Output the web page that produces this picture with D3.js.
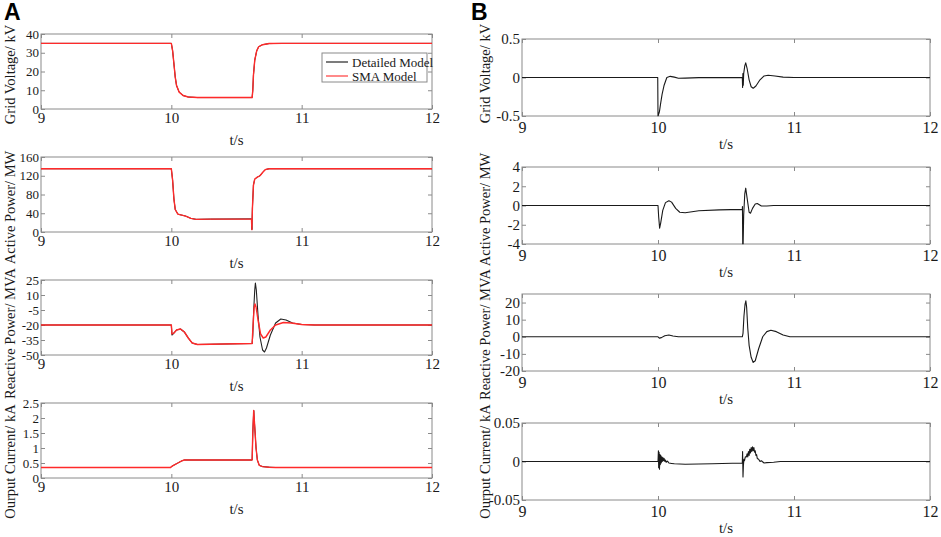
<!DOCTYPE html>
<html><head><meta charset="utf-8">
<script src="https://cdn.jsdelivr.net/npm/d3@7"></script>
<style>
html,body{margin:0;padding:0;background:#fff;}
svg{display:block;}
svg text, svg g text, .tick text{font-family:"Liberation Serif","Times New Roman",serif !important;fill:#1a1a1a;}
svg text.letter{font-family:"Liberation Sans",Arial,sans-serif !important;font-weight:bold;fill:#000;}
</style></head>
<body>
<svg id="chart" width="941" height="537"></svg>
<script>
// ---------- DATA ----------
const timeDomain = [9, 12];
const xTickValues = [9, 10, 11, 12];
const xAxisLabel = "t/s";
const yLabels = ["Grid Voltage/ kV", "Active Power/ MW", "Reactive Power/ MVA", "Ourput Current/ kA"];
const legendLabels = ["Detailed Model", "SMA Model"];

// Panel A y-axes
const aDomains = [[0, 40], [0, 160], [-50, 25], [0, 2.5]];
const aTicks = [[0, 10, 20, 30, 40], [0, 40, 80, 120, 160], [-50, -35, -20, -5, 10, 25], [0, 0.5, 1, 1.5, 2, 2.5]];
// Panel B y-axes
const bDomains = [[-0.5, 0.5], [-4, 4], [-20, 25], [-0.05, 0.05]];
const bTicks = [[-0.5, 0, 0.5], [-4, -2, 0, 2, 4], [-20, -10, 0, 10, 20], [-0.05, 0, 0.05]];

// Panel A: grid voltage (kV)
const voltageDetailed = [[9,35],[10.0,35],[10.01,31],[10.02,24],[10.03,17],[10.04,12.5],[10.06,9],[10.09,7.2],[10.13,6.4],[10.2,6.1],[10.62,6.1],[10.625,10],[10.63,18],[10.64,26],[10.655,31],[10.67,33.2],[10.7,34.3],[10.75,34.9],[10.85,35],[12,35]];
const voltageSMA = [[9,35],[10.0,35],[10.01,31],[10.02,24],[10.03,17],[10.04,12.5],[10.06,9],[10.09,7.2],[10.13,6.4],[10.2,6.1],[10.62,6.1],[10.625,10],[10.63,18],[10.64,26],[10.655,31],[10.67,33.2],[10.7,34.3],[10.75,34.9],[10.85,35],[12,35]];
// Panel A: active power (MW)
const activeDetailed = [[9,135],[10.0,135],[10.01,110],[10.02,70],[10.03,48],[10.05,38],[10.08,36],[10.11,34],[10.15,29],[10.19,27],[10.3,27.5],[10.615,28],[10.618,5],[10.622,50],[10.63,100],[10.64,113],[10.66,117],[10.68,120],[10.7,127],[10.72,133],[10.75,135],[12,135]];
const activeSMA = [[9,135],[10.0,135],[10.01,110],[10.02,70],[10.03,48],[10.05,38],[10.08,36],[10.11,34],[10.15,29],[10.19,27],[10.3,27.5],[10.615,28],[10.618,5],[10.622,50],[10.63,100],[10.64,113],[10.66,117],[10.68,120],[10.7,127],[10.72,133],[10.75,135],[12,135]];
// Panel A: reactive power (MVA)
const reactiveDetailed = [[9,-20],[10.0,-20],[10.005,-30],[10.02,-28],[10.04,-25],[10.07,-24],[10.1,-27],[10.13,-33],[10.16,-38],[10.2,-39.5],[10.4,-39],[10.62,-38.5],[10.625,-30],[10.632,-5],[10.64,15],[10.645,22],[10.652,15],[10.665,-10],[10.68,-32],[10.7,-45],[10.715,-47],[10.73,-43],[10.76,-30],[10.8,-18],[10.84,-14],[10.88,-15],[10.93,-18],[11.0,-19.5],[11.1,-20],[12,-20]];
const reactiveSMA = [[9,-20],[10.0,-20],[10.005,-29],[10.02,-28],[10.04,-25],[10.07,-24],[10.1,-27],[10.13,-33],[10.16,-38],[10.2,-39.5],[10.4,-39],[10.62,-38.5],[10.625,-25],[10.635,-3],[10.642,1],[10.65,-2],[10.665,-15],[10.685,-29],[10.705,-33],[10.725,-32],[10.76,-25],[10.8,-20],[10.86,-17.5],[10.92,-18],[11.0,-19.5],[11.1,-20],[12,-20]];
// Panel A: output current (kA)
const currentDetailed = [[9,0.35],[9.995,0.35],[10.0,0.38],[10.02,0.43],[10.05,0.5],[10.08,0.57],[10.1,0.6],[10.62,0.6],[10.625,1.5],[10.632,2.25],[10.64,1.7],[10.65,1.0],[10.66,0.6],[10.675,0.42],[10.7,0.38],[10.75,0.36],[10.8,0.35],[12,0.35]];
const currentSMA = [[9,0.35],[9.995,0.35],[10.0,0.38],[10.02,0.43],[10.05,0.5],[10.08,0.57],[10.1,0.6],[10.62,0.6],[10.625,1.5],[10.632,2.25],[10.64,1.7],[10.65,1.0],[10.66,0.6],[10.675,0.42],[10.7,0.38],[10.75,0.36],[10.8,0.35],[12,0.35]];

// Panel B: errors
const voltageError = [[9,0],[9.998,0],[10.0,-0.5],[10.01,-0.45],[10.02,-0.33],[10.03,-0.22],[10.045,-0.1],[10.065,0],[10.09,0.015],[10.12,0.005],[10.15,-0.01],[10.2,-0.008],[10.3,-0.002],[10.62,0],[10.622,-0.13],[10.624,0.05],[10.627,-0.1],[10.63,0.05],[10.638,0.15],[10.645,0.19],[10.655,0.12],[10.67,-0.03],[10.685,-0.12],[10.7,-0.14],[10.72,-0.11],[10.75,-0.03],[10.78,0.02],[10.81,0.03],[10.86,0.02],[10.92,0.005],[11.0,0],[12,0]];
const activeError = [[9,0],[10.0,0],[10.005,-1.2],[10.012,-2.35],[10.02,-1.8],[10.035,-0.5],[10.055,0.3],[10.08,0.5],[10.1,0.35],[10.13,-0.3],[10.16,-0.7],[10.2,-0.75],[10.3,-0.55],[10.45,-0.45],[10.62,-0.4],[10.621,-0.1],[10.623,-4],[10.626,-4],[10.63,-1],[10.638,1.2],[10.645,1.8],[10.655,0.8],[10.67,-0.7],[10.68,-0.8],[10.695,-0.3],[10.715,0.15],[10.73,0.2],[10.76,-0.05],[10.8,-0.05],[10.85,0],[12,0]];
const reactiveError = [[9,0],[10.0,0],[10.01,-0.8],[10.025,-0.5],[10.05,0.6],[10.08,1],[10.11,0.5],[10.15,0],[10.62,0],[10.625,2],[10.632,12],[10.64,19],[10.646,21],[10.652,17],[10.66,5],[10.67,-5],[10.685,-12],[10.7,-15],[10.715,-14],[10.74,-7],[10.77,0],[10.8,3],[10.83,3.8],[10.87,3],[10.92,1],[10.97,0],[12,0]];
const currentError = [[9,0],[10.0,0],[10.003,0.014],[10.005,-0.008],[10.008,0.012],[10.011,-0.01],[10.014,0.009],[10.017,-0.004],[10.02,0.008],[10.024,-0.002],[10.028,0.006],[10.032,0],[10.036,0.005],[10.04,0.001],[10.045,0.004],[10.05,0],[10.055,0.002],[10.06,-0.001],[10.07,0.0005],[10.08,-0.002],[10.1,-0.0025],[10.12,-0.003],[10.2,-0.0035],[10.4,-0.003],[10.62,-0.002],[10.622,0.013],[10.625,-0.02],[10.628,-0.005],[10.632,0.003],[10.636,0.001],[10.642,0.006],[10.65,0.006],[10.655,0.01],[10.66,0.006],[10.665,0.013],[10.67,0.008],[10.675,0.016],[10.68,0.011],[10.685,0.018],[10.69,0.013],[10.695,0.019],[10.70,0.014],[10.705,0.018],[10.71,0.012],[10.715,0.014],[10.72,0.008],[10.725,0.009],[10.73,0.004],[10.74,0.003],[10.75,0.0],[10.76,0.001],[10.78,-0.002],[10.8,-0.0015],[10.85,-0.001],[10.9,0],[12,0]];

// ---------- LAYOUT ----------
const svg = d3.select("#chart");
const serif = '"Liberation Serif", "Times New Roman", serif';
const layoutA = {x0: 41, x1: 432, tops: [34, 157, 280, 403], h: 75, yTickFont: 13, xTickFont: 15,
                 labelX: 10, labelOffsets: [3, 13, 16, 21], xTickDy: 14, titleDy: 36, labelFont: 14.5};
const layoutB = {x0: 522, x1: 930, tops: [39, 167, 294, 423], h: 77, yTickFont: 15, xTickFont: 16,
                 labelX: 485, labelOffsets: [-4, 4, 2, 0], xTickDy: 17, titleDy: 33, labelFont: 14.5};

const redColor = "#ff2a2a";
const plotsA = [
  {domain: aDomains[0], ticks: aTicks[0], series: [{d: voltageDetailed, c: "#111", w: 1}, {d: voltageSMA, c: redColor, w: 1.4}]},
  {domain: aDomains[1], ticks: aTicks[1], series: [{d: activeDetailed, c: "#111", w: 1}, {d: activeSMA, c: redColor, w: 1.4}]},
  {domain: aDomains[2], ticks: aTicks[2], series: [{d: reactiveDetailed, c: "#222", w: 1.1}, {d: reactiveSMA, c: redColor, w: 1.4}]},
  {domain: aDomains[3], ticks: aTicks[3], series: [{d: currentDetailed, c: "#111", w: 1}, {d: currentSMA, c: redColor, w: 1.4}]}
];
const plotsB = [
  {domain: bDomains[0], ticks: bTicks[0], series: [{d: voltageError, c: "#1a1a1a", w: 1.1}]},
  {domain: bDomains[1], ticks: bTicks[1], series: [{d: activeError, c: "#1a1a1a", w: 1.1}]},
  {domain: bDomains[2], ticks: bTicks[2], series: [{d: reactiveError, c: "#1a1a1a", w: 1.1}]},
  {domain: bDomains[3], ticks: bTicks[3], series: [{d: currentError, c: "#1a1a1a", w: 1.1}]}
];

const frameColor = "#8a8a8a";
let clipId = 0;

function fmt(v) { return String(v); }

function drawPanel(L, plots) {
  const x = d3.scaleLinear().domain(timeDomain).range([L.x0, L.x1]);
  plots.forEach((p, i) => {
    const top = L.tops[i], bot = top + L.h;
    const y = d3.scaleLinear().domain(p.domain).range([bot, top]);
    const g = svg.append("g");
    const id = "clip" + (clipId++);
    g.append("clipPath").attr("id", id).append("rect")
      .attr("x", L.x0).attr("y", top - 0.5).attr("width", L.x1 - L.x0).attr("height", L.h + 1);
    g.append("rect").attr("x", L.x0).attr("y", top).attr("width", L.x1 - L.x0).attr("height", L.h)
      .attr("fill", "none").attr("stroke", frameColor).attr("stroke-width", 1);
    const axB = g.append("g").attr("transform", `translate(0,${bot})`)
      .call(d3.axisBottom(x).tickValues(xTickValues).tickSize(-4).tickPadding(3).tickFormat(fmt));
    const axT = g.append("g").attr("transform", `translate(0,${top})`)
      .call(d3.axisTop(x).tickValues(xTickValues).tickSize(-4).tickFormat(""));
    const axL = g.append("g").attr("transform", `translate(${L.x0},0)`)
      .call(d3.axisLeft(y).tickValues(p.ticks).tickSize(-4).tickPadding(2).tickFormat(fmt));
    const axR = g.append("g").attr("transform", `translate(${L.x1},0)`)
      .call(d3.axisRight(y).tickValues(p.ticks).tickSize(-4).tickFormat(""));
    [axB, axT, axL, axR].forEach(a => {
      a.attr("font-family", serif);
      a.select(".domain").remove();
      a.selectAll(".tick line").attr("stroke", frameColor);
    });
    axB.selectAll(".tick text").style("font-family", serif).style("font-size", L.xTickFont + "px")
      .attr("dy", null).attr("y", L.xTickDy);
    axL.selectAll(".tick text").style("font-family", serif).style("font-size", L.yTickFont + "px");
    g.append("text").attr("x", (L.x0 + L.x1) / 2).attr("y", bot + L.titleDy)
      .attr("text-anchor", "middle").style("font-size", "15px").text(xAxisLabel);
    const cy = top + L.h / 2 + L.labelOffsets[i];
    g.append("text").attr("transform", `translate(${L.labelX},${cy}) rotate(-90)`)
      .attr("text-anchor", "middle").attr("dy", "0.35em").style("font-size", L.labelFont + "px").text(yLabels[i]);
    const line = d3.line().x(d => x(d[0])).y(d => y(d[1]));
    const lg = g.append("g").attr("clip-path", `url(#${id})`);
    p.series.forEach(s => {
      lg.append("path").datum(s.d).attr("d", line).attr("fill", "none")
        .attr("stroke", s.c).attr("stroke-width", s.w).attr("stroke-linejoin", "round");
    });
  });
  return x;
}

drawPanel(layoutA, plotsA);
drawPanel(layoutB, plotsB);

svg.append("text").attr("class", "letter").attr("x", 4).attr("y", 20).style("font-size", "23px").text("A");
svg.append("text").attr("class", "letter").attr("x", 471).attr("y", 20).style("font-size", "23px").text("B");

const leg = svg.append("g");
leg.append("rect").attr("x", 322).attr("y", 53).attr("width", 105).attr("height", 29)
  .attr("fill", "#fff").attr("stroke", frameColor);
const legColors = ["#111", redColor];
legendLabels.forEach((t, i) => {
  const yy = 62 + i * 14;
  leg.append("line").attr("x1", 326).attr("x2", 348).attr("y1", yy).attr("y2", yy)
    .attr("stroke", legColors[i]).attr("stroke-width", 1.1);
  leg.append("text").attr("x", 352).attr("y", yy).attr("dy", "0.35em").style("font-size", "13px").text(t);
});
</script>
</body></html>
